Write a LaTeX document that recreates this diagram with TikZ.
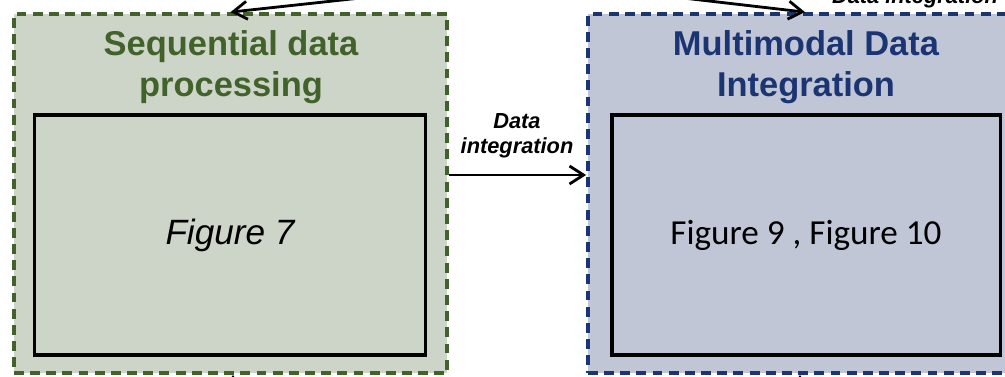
\documentclass[tikz,border=0pt]{standalone}
\usepackage{fontspec}
\setmainfont{Liberation Sans}
\newfontfamily\calfont{Carlito}
\usetikzlibrary{arrows.meta,positioning}
\definecolor{seqgreen}{HTML}{41622A}
\definecolor{seqfill}{HTML}{CDD5C8}
\definecolor{mmblue}{HTML}{1B3472}
\definecolor{mmfill}{HTML}{C0C6D6}

\begin{document}
\begin{tikzpicture}[x=0.025cm,y=-0.025cm,
  group box/.style={rectangle,line width=2.6pt,dash pattern=on 7pt off 4.5pt,minimum height=8.975cm},
  inner box/.style={rectangle,draw=black,line width=2.2pt,minimum height=6cm},
  title text/.style={align=center,font=\bfseries\fontsize{24.5}{29}\selectfont},
  edge text/.style={align=center,font=\bfseries\itshape\fontsize{15.5}{17.7}\selectfont},
  conn/.style={draw=black,line width=2pt,-{Straight Barb[length=3.5mm,width=4.5mm,line width=2pt]}}]
  \useasboundingbox (0,0) rectangle (1005,376);
  \clip (0,0) rectangle (1005,376);
  % two groups
  \node [group box,draw=seqgreen,fill=seqfill,minimum width=10.825cm](seq) at (230.5,193.5) {};
  \node [group box,draw=mmblue,fill=mmfill,minimum width=10.85cm](mm) at (805,193.5) {};
  \node [title text,text=seqgreen](seqtitle) at (231,67) {Sequential data\\processing};
  \node [title text,text=mmblue](mmtitle) at (806,67) {Multimodal Data\\Integration};
  % contents
  \node [inner box,minimum width=9.75cm,font=\itshape\fontsize{25}{30}\selectfont](fig7) at (230,235) {Figure 7};
  \node [inner box,minimum width=9.7cm,font=\calfont\fontsize{25}{30}\selectfont](fig910) at (806,235) {Figure 9 , Figure 10};
  % links
  \coordinate (mid) at (517,175);
  \draw [conn] (seq.east |- mid) -- (mm.west |- mid);
  \node [edge text](midlabel) at (517,136) {Data\\integration};
  \coordinate (fromA) at (480,-15);
  \coordinate (fromB) at (571,-15);
  \draw [conn] (fromA) -- (seq.north);
  \draw [conn] (fromB) -- (mm.north);
  \node [edge text,anchor=base](toplabel) at (915,3) {Data integration};
  \coordinate (belowA) at (233,410);
  \coordinate (belowB) at (800,410);
  \draw [conn] (belowA) -- (belowA |- seq.south);
  \draw [conn] (belowB) -- (belowB |- mm.south);
\end{tikzpicture}
\end{document}
